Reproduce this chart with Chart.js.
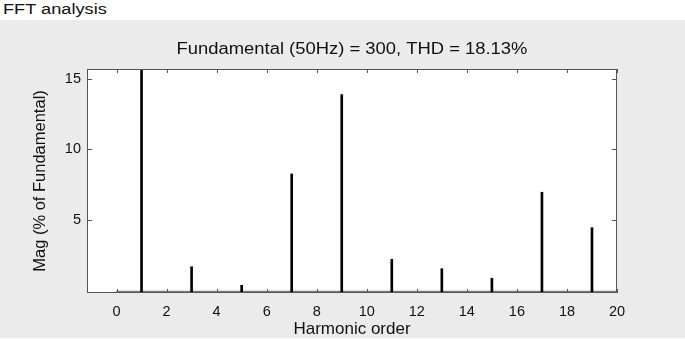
<!DOCTYPE html>
<html>
<head>
<meta charset="utf-8">
<script src="https://cdn.jsdelivr.net/npm/chart.js@4.4.1/dist/chart.umd.min.js"></script>
<style>
    body { margin: 0; background: #fff; width: 685px; height: 339px; overflow: hidden; font-family: "Liberation Sans", Arial, sans-serif; }
    #head { position: absolute; left: 3px; top: 1px; font-size: 14px; line-height: 16px; color: #111; transform: scaleX(1.3); transform-origin: left top; white-space: nowrap; }
    #panel { position: absolute; left: 0; top: 20px; width: 685px; height: 318px; background: #ebebeb; }
</style>
</head>
<body>
<div id="head">FFT analysis</div>
<div id="panel"><canvas id="fftChart" width="685" height="318"></canvas></div>
<script>
// ============================================
// DATA - harmonic spectrum
// ============================================
const HARMONIC_ORDER = [1, 3, 5, 7, 9, 11, 13, 15, 17, 19];
const MAG_PCT = [100, 1.65, 0.33, 8.25, 13.9, 2.18, 1.51, 0.83, 6.95, 4.43];
const X_TICKS = [0, 2, 4, 6, 8, 10, 12, 14, 16, 18, 20];
const Y_TICKS = [5, 10, 15];
const X_RANGE = [-1.18, 20];
const Y_RANGE = [-0.22, 15.72];
const TITLE = 'Fundamental (50Hz) = 300, THD = 18.13%';

const FONT = '"Liberation Sans", Arial, sans-serif';
const INK = '#111';

// Draws white plot area, dotted baseline, box frame with inward ticks, and title
const framePlugin = {
    id: 'frame',
    beforeDraw(chart) {
        const a = chart.chartArea;
        const ctx = chart.ctx;
        ctx.save();
        ctx.fillStyle = '#fff';
        ctx.fillRect(a.left, a.top, a.right - a.left, a.bottom - a.top);
        ctx.restore();
    },
    afterDatasetsDraw(chart) {
        const a = chart.chartArea;
        const ctx = chart.ctx;
        const xs = chart.scales.x;
        const ys = chart.scales.y;
        ctx.save();

        // dotted baseline under the bars (0 .. 20)
        ctx.strokeStyle = '#000';
        ctx.lineWidth = 1.5;
        ctx.setLineDash([1, 1]);
        ctx.beginPath();
        ctx.moveTo(xs.getPixelForValue(X_TICKS[0]), a.bottom - 1.5);
        ctx.lineTo(xs.getPixelForValue(X_TICKS[X_TICKS.length - 1]), a.bottom - 1.5);
        ctx.stroke();
        ctx.setLineDash([]);

        // frame
        ctx.strokeStyle = '#555';
        ctx.lineWidth = 1;
        ctx.strokeRect(a.left + 0.5, a.top + 0.5, a.right - a.left - 1, a.bottom - a.top - 1);

        // inward ticks on all sides
        ctx.beginPath();
        X_TICKS.forEach(v => {
            const px = Math.round(xs.getPixelForValue(v)) + 0.5;
            ctx.moveTo(px, a.bottom);
            ctx.lineTo(px, a.bottom - 4);
            ctx.moveTo(px, a.top);
            ctx.lineTo(px, a.top + 4);
        });
        Y_TICKS.forEach(v => {
            const py = Math.round(ys.getPixelForValue(v)) + 0.5;
            ctx.moveTo(a.left, py);
            ctx.lineTo(a.left + 5, py);
            ctx.moveTo(a.right, py);
            ctx.lineTo(a.right - 5, py);
        });
        ctx.stroke();

        // title, slightly stretched like the reference
        ctx.fillStyle = INK;
        ctx.font = '16px ' + FONT;
        ctx.textAlign = 'center';
        ctx.textBaseline = 'alphabetic';
        ctx.translate((a.left + a.right) / 2, a.top - 15);
        ctx.scale(1.15, 1);
        ctx.fillText(TITLE, 0, 0);
        ctx.restore();
    }
};

const ctx = document.getElementById('fftChart').getContext('2d');
const fftChart = new Chart(ctx, {
    type: 'bar',
    data: {
        datasets: [{
            data: HARMONIC_ORDER.map((h, i) => ({ x: h, y: MAG_PCT[i] })),
            base: Y_RANGE[0],
            backgroundColor: '#000',
            borderWidth: 0,
            barThickness: 2,
            grouped: false
        }]
    },
    options: {
        responsive: false,
        animation: false,
        layout: { padding: { left: 27, right: 68, top: 49, bottom: 0 } },
        plugins: {
            legend: { display: false },
            tooltip: { enabled: false }
        },
        scales: {
            x: {
                type: 'linear',
                min: X_RANGE[0],
                max: X_RANGE[1],
                offset: false,
                grid: { display: false, drawTicks: false, offset: false },
                border: { display: false },
                afterBuildTicks: s => { s.ticks = X_TICKS.map(v => ({ value: v })); },
                afterFit: s => { s.height = 45; },
                ticks: { padding: 10, autoSkip: false, maxRotation: 0, color: INK, font: { family: FONT, size: 14.5 } },
                title: { display: true, text: 'Harmonic order', color: INK, font: { family: FONT, size: 17, lineHeight: 1.0 }, padding: { top: 0, bottom: 0 } }
            },
            y: {
                min: Y_RANGE[0],
                max: Y_RANGE[1],
                grid: { display: false, drawTicks: false },
                border: { display: false },
                afterBuildTicks: s => { s.ticks = Y_TICKS.map(v => ({ value: v })); },
                afterFit: s => { s.width = 60; },
                ticks: { padding: 6, color: INK, font: { family: FONT, size: 14.5 } },
                title: { display: true, text: 'Mag (% of Fundamental)', color: INK, font: { family: FONT, size: 16.5 }, padding: { top: 4, bottom: 0 } }
            }
        }
    },
    plugins: [framePlugin]
});
</script>
</body>
</html>
